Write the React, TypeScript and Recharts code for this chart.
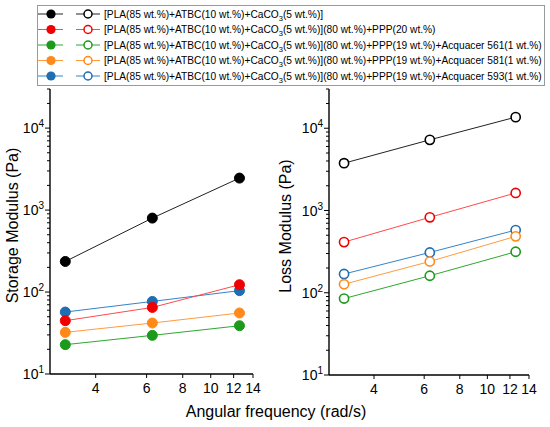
import React from 'react';
import { Line, LineChart, XAxis, YAxis } from 'recharts';

// angular frequency (rad/s)
const freq = [3.14, 6.28, 12.57];

const seriesNames = [
  '[PLA(85 wt.%)+ATBC(10 wt.%)+CaCO3(5 wt.%)]',
  '[PLA(85 wt.%)+ATBC(10 wt.%)+CaCO3(5 wt.%)](80 wt.%)+PPP(20 wt.%)',
  '[PLA(85 wt.%)+ATBC(10 wt.%)+CaCO3(5 wt.%)](80 wt.%)+PPP(19 wt.%)+Acquacer 561(1 wt.%)',
  '[PLA(85 wt.%)+ATBC(10 wt.%)+CaCO3(5 wt.%)](80 wt.%)+PPP(19 wt.%)+Acquacer 581(1 wt.%)',
  '[PLA(85 wt.%)+ATBC(10 wt.%)+CaCO3(5 wt.%)](80 wt.%)+PPP(19 wt.%)+Acquacer 593(1 wt.%)',
];

const markerColors = ['#000000', '#f00000', '#1c9a1c', '#ff8a1a', '#1f6db3'];
const lineColors = ['#222222', '#ff4a4a', '#2ea82e', '#ff9c3c', '#3584c6'];

// storage modulus G' (Pa)
const storagePLA = [236, 798, 2455];
const storagePPP = [44.7, 64.9, 122.8];
const storage561 = [22.8, 29.6, 38.8];
const storage581 = [32.2, 41.9, 55.5];
const storage593 = [57, 76.8, 104];

// loss modulus G'' (Pa)
const lossPLA = [3760, 7230, 13650];
const lossPPP = [413, 826, 1634];
const loss561 = [85, 161, 315];
const loss581 = [127, 240, 485];
const loss593 = [169, 309, 578];

const storageSeries = [storagePLA, storagePPP, storage561, storage581, storage593];
const lossSeries = [lossPLA, lossPPP, loss561, loss581, loss593];

const xTicks = [4, 6, 8, 10, 12, 14];
const xDomain = [2.78, 14];
const yDomain = [10, 30000];
const yTicks = [
  10, 20, 30, 40, 50, 60, 70, 80, 90,
  100, 200, 300, 400, 500, 600, 700, 800, 900,
  1000, 2000, 3000, 4000, 5000, 6000, 7000, 8000, 9000,
  10000, 20000, 30000,
];

const chartData = freq.map((w, i) => {
  const row: Record<string, number> = { w };
  storageSeries.forEach((s, k) => (row[`s${k}`] = s[i]));
  lossSeries.forEach((s, k) => (row[`l${k}`] = s[i]));
  return row;
});

const AXIS = '#000';

const LogYTick = (props: any) => {
  const { x, y, payload } = props;
  const v = payload.value;
  const lg = Math.log10(v);
  const e = Math.round(lg);
  const major = Math.abs(lg - e) < 1e-6;
  return (
    <g>
      <line x1={x} x2={x - (major ? 5 : 3)} y1={y} y2={y} stroke={AXIS} strokeWidth={1} />
      {major && (
        <text x={x - 6} y={y} dy='0.36em' textAnchor='end' fontSize={14} fill='#000'>
          10
          <tspan dy={-6} fontSize={10}>
            {e}
          </tspan>
        </text>
      )}
    </g>
  );
};

const XTick = (props: any) => {
  const { x, y, payload } = props;
  return (
    <g>
      <line x1={x} x2={x} y1={y} y2={y + 4} stroke={AXIS} strokeWidth={1} />
      <text x={x} y={y + 19} textAnchor='middle' fontSize={14} fill='#000'>
        {payload.value}
      </text>
    </g>
  );
};

type PanelProps = {
  prefix: string;
  filled: boolean;
  title: string;
  left: number;
  axisWidth: number;
  rightMargin: number;
  xAxisHeight: number;
  titleX: number;
};

const Panel = ({ prefix, filled, title, left, axisWidth, rightMargin, xAxisHeight, titleX }: PanelProps) => {
  // draw back to front so the first series ends up on top
  const order = [4, 3, 2, 1, 0];
  return (
    <div style={{ position: 'absolute', left, top: 0 }}>
      <LineChart
        width={275}
        height={427}
        data={chartData}
        margin={{ top: 89, right: rightMargin, left: 0, bottom: 0 }}
      >
        <XAxis
          dataKey='w'
          type='number'
          scale='log'
          domain={xDomain}
          allowDataOverflow
          ticks={xTicks}
          interval={0}
          height={xAxisHeight}
          tickSize={0}
          tickMargin={0}
          tickLine={false}
          tick={<XTick />}
          axisLine={{ stroke: AXIS, strokeWidth: 1.4 }}
        />
        <XAxis
          xAxisId='top'
          orientation='top'
          type='number'
          scale='log'
          domain={xDomain}
          allowDataOverflow
          height={0}
          tick={false}
          tickLine={false}
          axisLine={{ stroke: AXIS, strokeWidth: 1.4 }}
        />
        <YAxis
          type='number'
          scale='log'
          domain={yDomain}
          allowDataOverflow
          ticks={yTicks}
          interval={0}
          width={axisWidth}
          tickSize={0}
          tickMargin={0}
          tickLine={false}
          tick={<LogYTick />}
          axisLine={{ stroke: AXIS, strokeWidth: 1.4 }}
          label={(p: any) => {
            const vb = p.viewBox || { x: 0, y: 89, height: 285 };
            const cx = vb.x + titleX;
            const cy = vb.y + vb.height / 2 - 6;
            return (
              <text
                x={cx}
                y={cy}
                transform={`rotate(-90 ${cx} ${cy})`}
                textAnchor='middle'
                dominantBaseline='central'
                fontSize={16}
                fill='#000'
              >
                {title}
              </text>
            );
          }}
        />
        <YAxis
          yAxisId='right'
          orientation='right'
          type='number'
          scale='log'
          domain={yDomain}
          allowDataOverflow
          width={0}
          tick={false}
          tickLine={false}
          axisLine={{ stroke: AXIS, strokeWidth: 1.4 }}
        />
        {order.map((k) => (
          <Line
            key={k}
            dataKey={`${prefix}${k}`}
            stroke={lineColors[k]}
            strokeWidth={1}
            isAnimationActive={false}
            dot={
              filled
                ? { r: 5, fill: markerColors[k], stroke: markerColors[k], strokeWidth: 1 }
                : { r: 4.6, fill: '#ffffff', stroke: markerColors[k], strokeWidth: 1.6 }
            }
          />
        ))}
      </LineChart>
    </div>
  );
};

const LegendLabel = ({ text, x, y }: { text: string; x: number; y: number }) => {
  const [head, tail] = text.split('CaCO3');
  return (
    <text x={x} y={y} fontSize={10.2} fill='#000'>
      {head}CaCO
      <tspan dy={3} fontSize={7.5}>
        3
      </tspan>
      <tspan dy={-3}>{tail}</tspan>
    </text>
  );
};

const Overlay = () => (
  <svg
    width={550}
    height={427}
    style={{ position: 'absolute', left: 0, top: 0, pointerEvents: 'none' }}
  >
    <rect x={37.5} y={5.5} width={507} height={80} fill='#fff' stroke='#9a9a9a' strokeWidth={1} />
    {seriesNames.map((name, i) => {
      const y = 14 + i * 15.5;
      return (
        <g key={name}>
          <line x1={38} x2={63} y1={y} y2={y} stroke={lineColors[i]} strokeWidth={1} />
          <circle cx={51} cy={y} r={4.6} fill={markerColors[i]} />
          <line x1={76} x2={100} y1={y} y2={y} stroke={lineColors[i]} strokeWidth={1} />
          <circle cx={88} cy={y} r={4} fill='#fff' stroke={markerColors[i]} strokeWidth={1.5} />
          <LegendLabel text={name} x={104} y={y + 3.7} />
        </g>
      );
    })}
    <text x={276} y={417} textAnchor='middle' fontSize={16} fill='#000'>
      Angular frequency (rad/s)
    </text>
  </svg>
);

export default function App() {
  return (
    <div
      style={{
        position: 'absolute',
        left: 0,
        top: 0,
        width: 550,
        height: 427,
        background: '#fff',
        fontFamily: '"Liberation Sans", Arial, sans-serif',
      }}
    >
      <Panel
        prefix='s'
        filled
        title='Storage Modulus (Pa)'
        left={0}
        axisWidth={50}
        rightMargin={22}
        xAxisHeight={53}
        titleX={12.5}
      />
      <Panel
        prefix='l'
        filled={false}
        title='Loss Modulus (Pa)'
        left={275}
        axisWidth={54}
        rightMargin={21}
        xAxisHeight={52}
        titleX={10}
      />
      <Overlay />
    </div>
  );
}
